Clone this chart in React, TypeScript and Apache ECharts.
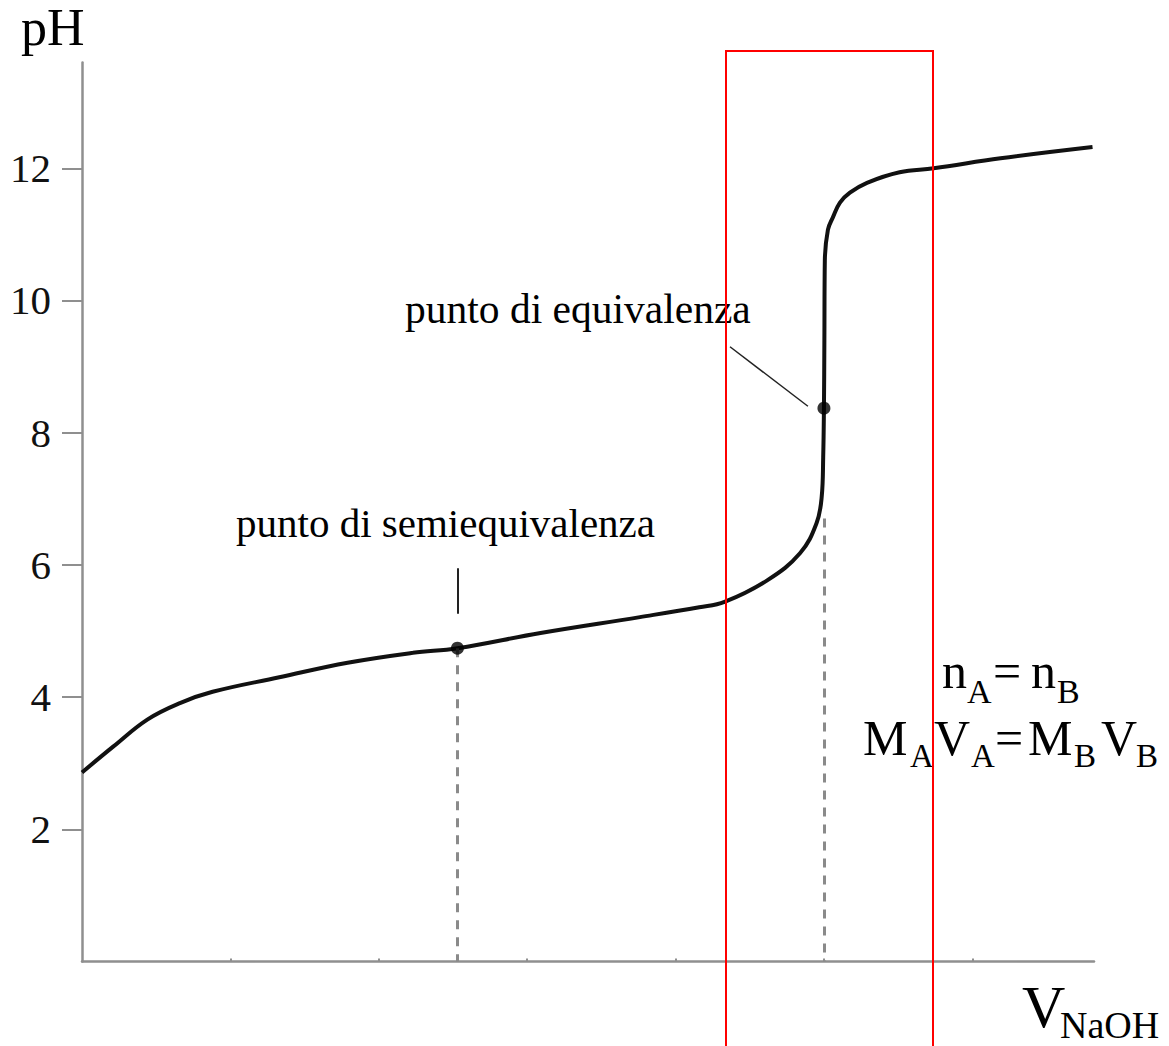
import React, { useEffect, useRef } from "react";
import * as echarts from "echarts";

// Titration of a weak acid with NaOH: added volume (mL) and measured pH
const volume = [
  0, 2.1, 4.4, 6.6, 8.8, 13.3, 17.9, 22.3, 25.3, 30.9, 37.6, 41.6, 43.3, 46.2,
  48.4, 49.5, 49.85, 49.95, 50, 50.03, 50.06, 50.27, 50.61, 51.08, 51.75, 52.9,
  55.1, 57.4, 61.9, 68.1,
];
const pHValues = [
  2.86, 3.25, 3.66, 3.91, 4.08, 4.3, 4.52, 4.67, 4.74, 4.97, 5.21, 5.36, 5.44,
  5.77, 6.18, 6.63, 7.03, 7.63, 8.37, 9.4, 10.6, 11.07, 11.26, 11.48, 11.63,
  11.78, 11.94, 12.0, 12.15, 12.32,
];

// Half-equivalence and equivalence points
const halfEquivalence = [25.3, 4.74];
const equivalence = [50, 8.37];

const yTicks = [2, 4, 6, 8, 10, 12];
const xTicks = [10, 20, 30, 40, 50, 60];

const SERIF = '"Liberation Serif", "DejaVu Serif", serif';

function txt(text: string, x: number, baseline: number, size: number) {
  return {
    type: "text",
    silent: true,
    style: {
      text,
      x,
      y: baseline - 0.34 * size,
      fill: "#000",
      fontSize: size,
      fontFamily: SERIF,
      align: "left",
      verticalAlign: "middle",
    },
  };
}

export default function App() {
  const ref = useRef<HTMLDivElement>(null);

  useEffect(() => {
    if (!ref.current) return;
    const chart = echarts.init(ref.current, null, { renderer: "svg" });

    const axisGray = "#8f8f8f";

    chart.setOption({
      animation: false,
      backgroundColor: "#fff",
      grid: { left: 82, right: 75, top: 62.5, bottom: 84.5 },
      xAxis: {
        type: "value",
        min: 0,
        max: 68.2,
        splitLine: { show: false },
        axisLine: { show: true, lineStyle: { color: axisGray, width: 2.5 } },
        axisTick: {
          show: true,
          inside: true,
          length: 3,
          customValues: xTicks,
          lineStyle: { color: axisGray, width: 2 },
        },
        axisLabel: { show: false },
      },
      yAxis: {
        type: "value",
        min: 0,
        max: 13.6,
        splitLine: { show: false },
        axisLine: { show: true, lineStyle: { color: axisGray, width: 2.5 } },
        axisTick: {
          show: true,
          length: 20,
          customValues: yTicks,
          lineStyle: { color: axisGray, width: 2 },
        },
        axisLabel: {
          show: true,
          customValues: yTicks,
          margin: 31,
          color: "#111",
          fontSize: 41,
          fontFamily: SERIF,
        },
      },
      series: [
        {
          type: "line",
          data: volume.map((v, i) => [v, pHValues[i]]),
          smooth: 0.4,
          showSymbol: false,
          lineStyle: { color: "#111", width: 4 },
          z: 4,
          markLine: {
            silent: true,
            symbol: ["none", "none"],
            label: { show: false },
            emphasis: { disabled: true },
            lineStyle: { color: "#8a8a8a", width: 3, type: [9, 8] },
            data: [
              [
                { coord: [halfEquivalence[0], halfEquivalence[1]] },
                { coord: [halfEquivalence[0], 0] },
              ],
              [
                { coord: [equivalence[0], 6.7] },
                { coord: [equivalence[0], 0] },
              ],
            ],
          },
        },
        {
          // leader lines from the captions to the points
          type: "line",
          data: [],
          markLine: {
            silent: true,
            symbol: ["none", "none"],
            label: { show: false },
            emphasis: { disabled: true },
            lineStyle: { color: "#222", width: 2, type: "solid" },
            data: [
              [{ coord: [halfEquivalence[0], 5.95] }, { coord: [halfEquivalence[0], 5.26] }],
              [{ coord: [43.67, 9.3], lineStyle: { width: 1.5 } }, { coord: [48.92, 8.4] }],
            ],
          },
        },
        {
          type: "scatter",
          data: [halfEquivalence, equivalence],
          symbol: "circle",
          symbolSize: 13,
          itemStyle: { color: "#000" },
          z: 6,
        },
      ],
      graphic: [
        {
          type: "rect",
          silent: true,
          shape: { x: 726, y: 51, width: 207, height: 1100 },
          style: { fill: "none", stroke: "#ff0000", lineWidth: 2 },
          z: 10,
        },
        txt("pH", 21, 45, 52),
        txt("punto di semiequivalenza", 236, 537, 41),
        txt("punto di equivalenza", 405, 323, 41.5),
        txt("V", 1022, 1027, 60),
        txt("NaOH", 1060, 1038, 38),
        // n_A = n_B
        txt("n", 942, 688, 50),
        txt("A", 967, 703, 34),
        txt("=", 993, 688, 50),
        txt("n", 1031, 688, 50),
        txt("B", 1057, 703, 34),
        // M_A V_A = M_B V_B
        txt("M", 863, 755, 50),
        txt("A", 910, 767, 33),
        txt("V", 934, 755, 50),
        txt("A", 971, 767, 33),
        txt("=", 995, 755, 50),
        txt("M", 1028, 755, 50),
        txt("B", 1074, 767, 33),
        txt("V", 1101, 755, 50),
        txt("B", 1136, 767, 33),
      ],
    });

    return () => chart.dispose();
  }, []);

  return (
    <div
      ref={ref}
      style={{ position: "absolute", left: 0, top: 0, width: 1169, height: 1046 }}
    />
  );
}
